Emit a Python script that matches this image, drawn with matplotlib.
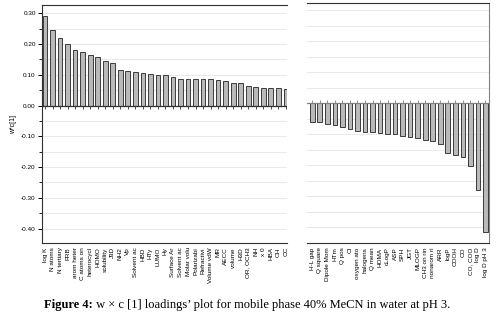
import numpy as np
import matplotlib
matplotlib.use("Agg")
import matplotlib.pyplot as plt
from matplotlib.ticker import MultipleLocator, FormatStrFormatter

plt.rcParams['font.family'] = ['Liberation Sans', 'DejaVu Sans']
plt.rcParams['axes.unicode_minus'] = False

# positive loadings (left panel)
pos_labels = ['log K', 'N atoms', 'N tertiary', 'FRB', 'arom heter', 'C atoms on',
              'heterocycl', 'HOMO', 'solubility', 'J3D', 'NH2', 'Vp', 'Solvent ac',
              'HBD', 'HTy', 'LUMO', 'Hy', 'Surface Ar', 'Solvent ac', 'Molar volu',
              'Polarizabi', 'Refractivi', 'Volume vdW', 'MR', 'AECC', 'volume', 'H3D',
              'OR, OCH3', 'NH', 'x 0', 'HBA', 'OH', 'CC']
pos_values = [0.291, 0.246, 0.220, 0.200, 0.182, 0.175, 0.164, 0.159, 0.144, 0.137,
              0.115, 0.111, 0.108, 0.107, 0.104, 0.101, 0.099, 0.093, 0.088, 0.085,
              0.085, 0.085, 0.085, 0.083, 0.079, 0.073, 0.073, 0.064, 0.059, 0.057,
              0.057, 0.057, 0.054]

# negative loadings (right panel)
neg_labels = ['H-L gap', 'Q square', 'Dipole Mom', 'HTm', 'Q pos', 'Cl', 'oxygen ato',
              'halogens', 'Q mean', 'HOMA', 'cLogP', 'ASP', 'SPH', 'JGT', 'MLOGP',
              'CH3 on rin', 'nonarom ri', 'ARR', 'logP', 'COOH', 'CO', 'CO, COO',
              'log D', 'log D pH 3']
neg_values = [-0.060, -0.061, -0.068, -0.071, -0.078, -0.084, -0.089, -0.091, -0.091,
              -0.097, -0.099, -0.099, -0.104, -0.110, -0.112, -0.119, -0.123, -0.130,
              -0.159, -0.168, -0.174, -0.203, -0.280, -0.416]

bar_col = '#b9b9b9'
edge_col = '#3c3c3c'
grid_col = '#e9e9e9'

fig = plt.figure(figsize=(5, 3.17), dpi=100)
ax1 = fig.add_axes([0.084, 0.2334, 0.49, 0.7508])
ax2 = fig.add_axes([0.614, 0.2325, 0.364, 0.757])


def style(ax, labels, values, ylim, tick_marker, zero_col):
    x = np.arange(len(values))
    ax.bar(x, values, width=0.62, color=bar_col, edgecolor=edge_col, linewidth=0.7, zorder=3)
    ax.axhline(0, color=zero_col, linewidth=0.9, zorder=4)
    ax.plot(x, np.zeros(len(x)), linestyle='none', marker=tick_marker, markersize=2.5,
            markeredgewidth=0.6, color=zero_col, zorder=4)
    ax.set_ylim(*ylim)
    ax.yaxis.set_major_locator(MultipleLocator(0.10))
    ax.yaxis.set_minor_locator(MultipleLocator(0.05))
    ax.yaxis.set_major_formatter(FormatStrFormatter('%.2f'))
    ax.grid(True, axis='y', which='both', color=grid_col, linewidth=0.7, zorder=0)
    ax.set_xticks(x)
    ax.set_xticklabels(labels, rotation=90, fontsize=4.6, linespacing=0.9)
    ax.tick_params(axis='x', length=0, pad=3)
    for s in ax.spines.values():
        s.set_linewidth(0.8)
        s.set_color('#303030')


style(ax1, pos_labels, pos_values, (-0.447, 0.327), 3, '#303030')
ax1.set_xlim(-0.4, len(pos_values) - 0.85)
ax1.spines['right'].set_visible(False)
ax1.tick_params(axis='y', which='major', labelsize=4.6, length=3, width=0.7, pad=1.5)
ax1.tick_params(axis='y', which='minor', length=2, width=0.6)
ax1.set_ylabel('w*c[1]', fontsize=5, labelpad=3)

style(ax2, neg_labels, neg_values, (-0.452, 0.323), 2, '#808080')
ax2.set_xlim(-0.7, len(neg_values) - 0.53)
ax2.spines['left'].set_visible(False)
ax2.spines['right'].set_color('#808080')
ax2.tick_params(axis='y', which='both', left=False, labelleft=False)

t1 = fig.text(0.088, 0.027, 'Figure 4:', fontsize=9, fontweight='bold',
              family='Liberation Serif', ha='left', va='baseline')
ax1.annotate(' w \u00d7 c [1] loadings\u2019 plot for mobile phase 40% MeCN in water at pH 3.',
             xy=(1, 0), xycoords=t1, va='bottom', ha='left', fontsize=9,
             family='Liberation Serif', annotation_clip=False)

fig.savefig('out.png', dpi=100)
